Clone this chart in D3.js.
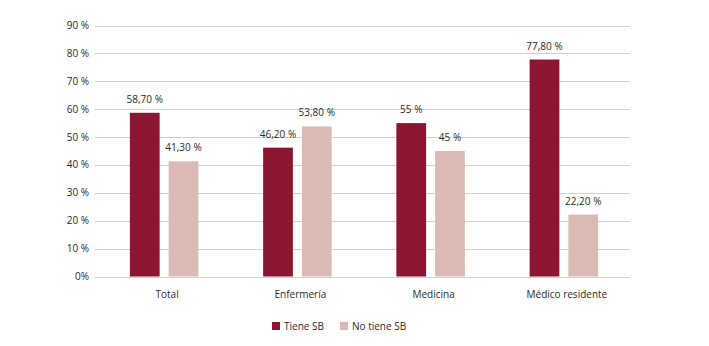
<!DOCTYPE html>
<html>
<head>
<meta charset="utf-8">
<script src="https://cdn.jsdelivr.net/npm/d3@7"></script>
<style>
  html, body { margin: 0; padding: 0; background: #fff; }
  text { font-family: "Open Sans", "DejaVu Sans", sans-serif; }
</style>
</head>
<body>
<svg id="chart" width="709" height="346"></svg>
<script>
const categories = ["Total", "Enfermería", "Medicina", "Médico residente"];
const seriesNames = ["Tiene SB", "No tiene SB"];
const tieneSB = [58.7, 46.2, 55, 77.8];
const noTieneSB = [41.3, 53.8, 45, 22.2];
const tieneSBLabels = ["58,70 %", "46,20 %", "55 %", "77,80 %"];
const noTieneSBLabels = ["41,30 %", "53,80 %", "45 %", "22,20 %"];
const yTicks = [0, 10, 20, 30, 40, 50, 60, 70, 80, 90];
const yTickLabels = ["0%", "10 %", "20 %", "30 %", "40 %", "50 %", "60 %", "70 %", "80 %", "90 %"];
const colors = ["#8c1632", "#dbbab6"];

const svg = d3.select("#chart");
const margin = { left: 97.5, right: 709 - 630.5, top: 25.5, bottom: 346 - 276.5 };
const W = 709, H = 346;
const groupW = 68.5;

const x0 = d3.scaleBand().domain(categories).range([margin.left, W - margin.right]).paddingInner(0).paddingOuter(0);
const x1 = d3.scaleBand().domain(seriesNames).range([0, groupW]).paddingInner(9 / 38.75).paddingOuter(0);
const y = d3.scaleLinear().domain([0, 90]).range([H - margin.bottom, margin.top]);

// gridlines
svg.append("g").selectAll("line").data(yTicks).join("line")
  .attr("x1", 95).attr("x2", 630)
  .attr("y1", d => Math.round(y(d)) + 0.5).attr("y2", d => Math.round(y(d)) + 0.5)
  .attr("stroke", "#d0d0d0").attr("stroke-width", 1);

// y tick labels
svg.append("g").selectAll("text").data(yTicks).join("text")
  .attr("x", 89).attr("y", d => y(d)).attr("dy", "0.35em")
  .attr("text-anchor", "end").attr("font-size", 10).attr("fill", "#2a2a2a")
  .text((d, i) => yTickLabels[i]);

const series = [tieneSB, noTieneSB];
const labels = [tieneSBLabels, noTieneSBLabels];
const barX = (i, s) => x0(categories[i]) + (x0.bandwidth() - groupW) / 2 + x1(seriesNames[s]);

series.forEach((vals, s) => {
  const g = svg.append("g");
  g.selectAll("rect").data(vals).join("rect")
    .attr("x", (d, i) => barX(i, s))
    .attr("width", x1.bandwidth())
    .attr("y", d => y(d))
    .attr("height", d => y(0) - y(d))
    .attr("fill", colors[s]);
  g.selectAll("text").data(vals).join("text")
    .attr("x", (d, i) => barX(i, s) + x1.bandwidth() / 2)
    .attr("y", d => y(d) - 10)
    .attr("text-anchor", "middle").attr("font-size", 10).attr("fill", "#2a2a2a")
    .text((d, i) => labels[s][i]);
});

// category labels
svg.append("g").selectAll("text").data(categories).join("text")
  .attr("x", d => x0(d) + x0.bandwidth() / 2 + 3)
  .attr("y", 298)
  .attr("text-anchor", "middle").attr("font-size", 10).attr("fill", "#2a2a2a")
  .text(d => d);

// legend
const legendX = [272, 340];
const lg = svg.append("g");
seriesNames.forEach((n, i) => {
  lg.append("rect").attr("x", legendX[i]).attr("y", 322).attr("width", 8).attr("height", 8).attr("fill", colors[i]);
  lg.append("text").attr("x", legendX[i] + 12).attr("y", 326).attr("dy", "0.35em")
    .attr("font-size", 10).attr("fill", "#2a2a2a").text(n);
});
</script>
</body>
</html>
